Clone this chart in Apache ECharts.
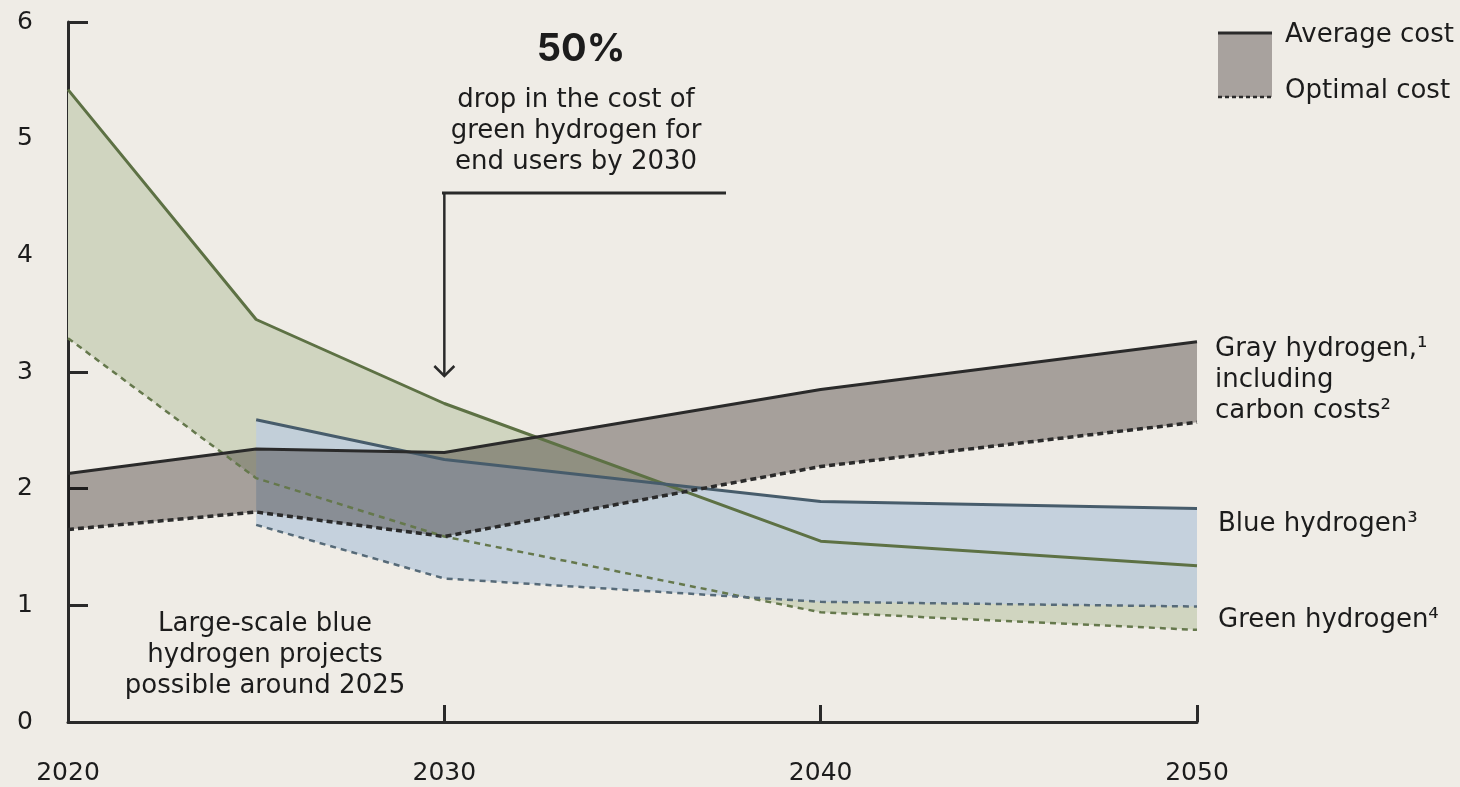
<!DOCTYPE html>
<html>
<head>
<meta charset="utf-8">
<script src="https://cdn.jsdelivr.net/npm/echarts@6/dist/echarts.min.js"></script>
<style>
html,body{margin:0;padding:0;background:#efece6;}
#chart{width:1460px;height:787px;}
</style>
</head>
<body>
<div id="chart"></div>
<script>
// ---- data ----
const years = [2020, 2025, 2030, 2040, 2050];
const grayAvg = [2.13, 2.34, 2.31, 2.85, 3.26];
const grayOpt = [1.65, 1.80, 1.59, 2.19, 2.57];
const blueYears = [2025, 2030, 2040, 2050];
const blueAvg = [2.59, 2.25, 1.89, 1.83];
const blueOpt = [1.69, 1.23, 1.03, 0.99];
const greenAvg = [5.42, 3.45, 2.73, 1.55, 1.34];
const greenOpt = [3.29, 2.09, 1.59, 0.94, 0.79];
const xTicks = [2020, 2030, 2040, 2050];
const yTicks = [0, 1, 2, 3, 4, 5, 6];

const FONT = '"DejaVu Sans", Inter, sans-serif';
const TXT = '#1c1c1c';
const C = {
  grayLine: '#2a2a2a', grayFill: '#b1adac',
  blueLine: '#475c6b', blueFill: '#c0cedb',
  greenLine: '#5d7144', greenFill: '#d0d5c0'
};

function pairs(xs, ys) { return xs.map((x, i) => [x, ys[i]]); }

// band between optimal (lower) and average (upper) costs, drawn through the axes' scales
function bandSeries(xs, opt, avg, fill, opacity, blend) {
  const upper = pairs(xs, avg);
  const lower = pairs(xs, opt).reverse();
  return {
    type: 'custom', coordinateSystem: 'cartesian2d', silent: true, z: 1,
    data: upper.concat(lower),
    encode: { x: 0, y: 1 },
    blendMode: blend || 'source-over',
    renderItem: function (params, api) {
      if (params.dataIndex !== 0) return null;
      const pts = upper.concat(lower).map(p => api.coord(p));
      return { type: 'polygon', shape: { points: pts },
        style: { fill: fill, opacity: opacity } };
    }
  };
}
function lineSeries(xs, ys, color, dash, width) {
  return { type: 'line', data: pairs(xs, ys), symbol: 'none', silent: true, z: 3,
    lineStyle: { color: color, width: width, type: dash || 'solid', cap: 'butt' } };
}

const chart = echarts.init(document.getElementById('chart'));
const option = {
  backgroundColor: '#efece6',
  animation: false,
  grid: { left: 68, right: 263, top: 22, bottom: 65, containLabel: false },
  xAxis: {
    type: 'value', min: 2020, max: 2050, interval: 10,
    axisLine: { show: true, onZero: false, lineStyle: { color: '#2a2a2a', width: 3 } },
    axisTick: { show: true, inside: true, length: 17, lineStyle: { color: '#2a2a2a', width: 3 } },
    splitLine: { show: false },
    axisLabel: { margin: 39, fontSize: 25, fontFamily: FONT, color: TXT,
      formatter: v => xTicks.indexOf(v) >= 0 ? String(v) : '' }
  },
  yAxis: {
    type: 'value', min: 0, max: 6, interval: 1,
    axisLine: { show: true, lineStyle: { color: '#2a2a2a', width: 3 } },
    axisTick: { show: true, inside: true, length: 20, lineStyle: { color: '#2a2a2a', width: 3 } },
    splitLine: { show: false },
    axisLabel: { margin: 35, fontSize: 25, fontFamily: FONT, color: TXT,
      formatter: v => yTicks.indexOf(v) >= 0 ? String(v) : '' }
  },
  series: [
    bandSeries(years, greenOpt, greenAvg, C.greenFill, 1, null),
    bandSeries(blueYears, blueOpt, blueAvg, C.blueFill, 0.9, null),
    bandSeries(years, grayOpt, grayAvg, C.grayFill, 1, 'multiply'),
    lineSeries(years, greenOpt, '#65784c', [6, 5], 2.5),
    lineSeries(years, greenAvg, C.greenLine, null, 3),
    lineSeries(blueYears, blueOpt, '#566a78', [6, 5], 2.5),
    lineSeries(blueYears, blueAvg, C.blueLine, null, 3),
    lineSeries(years, grayOpt, C.grayLine, [6, 4], 3.5),
    lineSeries(years, grayAvg, C.grayLine, null, 3)
  ]
};
chart.setOption(option);

const ax = chart.convertToPixel({ gridIndex: 0 }, [2030, 0])[0];
function t(text, x, y, opts) {
  return Object.assign({ type: 'text', x: x, y: y, silent: true, z: 10,
    style: Object.assign({ text: text, fill: TXT, fontSize: 26, fontFamily: FONT,
      textAlign: 'left', textVerticalAlign: 'middle', lineHeight: 31 }, opts || {}) });
}
chart.setOption({
  graphic: [
    t('50%', 581, 50, { fontSize: 38, fontWeight: 'bold', textAlign: 'center', fontFamily: 'Inter, sans-serif' }),
    t('drop in the cost of\ngreen hydrogen for\nend users by 2030', 576, 131, { textAlign: 'center' }),
    { type: 'line', silent: true, z: 10, shape: { x1: 442, y1: 193, x2: 726, y2: 193 },
      style: { stroke: '#2a2a2a', lineWidth: 3 } },
    { type: 'line', silent: true, z: 10, shape: { x1: ax, y1: 193, x2: ax, y2: 376 },
      style: { stroke: '#2a2a2a', lineWidth: 2.5 } },
    { type: 'polyline', silent: true, z: 10, shape: { points: [[ax - 10, 366], [ax, 376], [ax + 10, 366]] },
      style: { stroke: '#2a2a2a', lineWidth: 2.5, fill: null } },
    t('Large-scale blue\nhydrogen projects\npossible around 2025', 265, 655, { textAlign: 'center' }),
    t('Gray hydrogen,\u00b9\nincluding\ncarbon costs\u00b2', 1215, 380),
    t('Blue hydrogen\u00b3', 1218, 524),
    t('Green hydrogen\u2074', 1218, 620),
    // legend
    { type: 'rect', silent: true, z: 10, shape: { x: 1218, y: 33, width: 54, height: 64 },
      style: { fill: '#a8a29e' } },
    { type: 'line', silent: true, z: 11, shape: { x1: 1218, y1: 33, x2: 1272, y2: 33 },
      style: { stroke: '#2a2a2a', lineWidth: 3 } },
    { type: 'line', silent: true, z: 11, shape: { x1: 1218, y1: 97, x2: 1272, y2: 97 },
      style: { stroke: '#2a2a2a', lineWidth: 2.5, lineDash: [4, 3] } },
    t('Average cost', 1285, 35),
    t('Optimal cost', 1285, 91)
  ]
});
</script>
</body>
</html>
